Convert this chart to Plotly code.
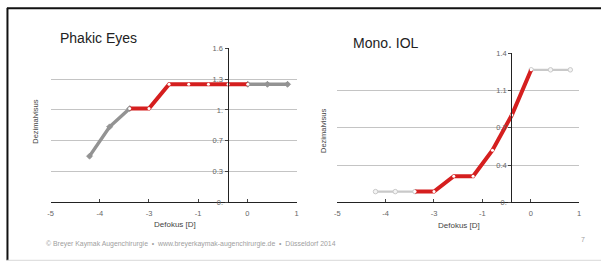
import plotly.graph_objects as go

# ---------------- data ----------------
DEFOKUS = [-4.05, -3.56, -3.07, -2.60, -2.11, -1.63, -1.15, -0.67, -0.19, 0.29, 0.78]
PHAKIC_VISUS = [0.48, 0.785, 0.975, 0.975, 1.228, 1.228, 1.228, 1.228, 1.228, 1.228, 1.228]
MONO_VISUS = [0.10, 0.10, 0.10, 0.10, 0.245, 0.245, 0.49, 0.82, 1.245, 1.245, 1.245]

X_TICK_LABELS = ["-5", "-4", "-3", "-1", "0", "1"]
PHAKIC_Y_LABELS = ["0.", "0.3", "0.7", "1.", "1.3", "1.6"]
MONO_Y_LABELS = ["0.", "0.4", "0.7", "1.1", "1.4"]

TITLES = ["Phakic Eyes", "Mono. IOL"]
Y_TITLE = "Dezimalvisus"
X_TITLE = "Defokus [D]"
FOOTER = "© Breyer Kaymak Augenchirurgie  •  www.breyerkaymak-augenchirurgie.de  •  Düsseldorf 2014"
PAGE = "7"

# axis configuration (Excel-like)
X_MIN, X_MAX, X_UNIT = -5.0, 1.0, 1.2
Y_CROSS = -0.68
PH_YMAX, PH_UNIT = 1.6, 0.32
MO_YMAX, MO_UNIT = 1.4, 0.35
RED_START, RED_END = 2, 8

W, H = 603, 274
FONT = "Liberation Sans, Arial, sans-serif"

RED = "#d51f1f"
GRAY_DARK = "#939393"
GRAY_LIGHT = "#c9c9c9"

fig = go.Figure()

def px_x(p):
    return p / W

def px_y(p):
    return (H - p) / H

panels = [
    dict(xa="x", ya="y", xdom=(48, 296), ytop=46, ymax=PH_YMAX, unit=PH_UNIT,
         labels=PHAKIC_Y_LABELS, vals=PHAKIC_VISUS, gray=GRAY_DARK, gw=3.5,
         gsym="diamond", gcol=GRAY_DARK, gline=GRAY_DARK),
    dict(xa="x2", ya="y2", xdom=(337, 581), ytop=51, ymax=MO_YMAX, unit=MO_UNIT,
         labels=MONO_Y_LABELS, vals=MONO_VISUS, gray=GRAY_LIGHT, gw=2.2,
         gsym="circle", gcol="#f4f4f4", gline=GRAY_LIGHT),
]

for i, p in enumerate(panels):
    xs = DEFOKUS
    ys = p["vals"]
    for sl in (slice(None, RED_START + 1), slice(RED_END, None)):
        fig.add_trace(go.Scatter(
            x=xs[sl], y=ys[sl], xaxis=p["xa"], yaxis=p["ya"],
            mode="lines+markers", line=dict(color=p["gray"], width=p["gw"]),
            marker=dict(symbol=p["gsym"], size=4.5, color=p["gcol"],
                        line=dict(color=p["gline"], width=1)),
            showlegend=False, hoverinfo="skip"))
    fig.add_trace(go.Scatter(
        x=xs[RED_START:RED_END + 1], y=ys[RED_START:RED_END + 1],
        xaxis=p["xa"], yaxis=p["ya"],
        mode="lines+markers", line=dict(color=RED, width=4),
        marker=dict(symbol="circle", size=3, color="white", line=dict(width=0)),
        showlegend=False, hoverinfo="skip"))

layout_axes = {}
for i, p in enumerate(panels):
    x0, x1 = p["xdom"]
    xdom = [px_x(x0), px_x(x1)]
    ydom = [px_y(205), px_y(p["ytop"])]
    cross_pos = xdom[0] + (Y_CROSS - X_MIN) / (X_MAX - X_MIN) * (xdom[1] - xdom[0])
    n_x = int(round((X_MAX - X_MIN) / X_UNIT))
    n_y = int(round(p["ymax"] / p["unit"]))
    xkey = "xaxis" if i == 0 else "xaxis2"
    ykey = "yaxis" if i == 0 else "yaxis2"
    layout_axes[xkey] = dict(
        domain=xdom, range=[X_MIN, X_MAX], anchor=p["ya"],
        tickmode="array", tickvals=[X_MIN + X_UNIT * k for k in range(n_x + 1)],
        ticktext=X_TICK_LABELS, showgrid=False, zeroline=False,
        showline=True, linecolor="#222", linewidth=1.3,
        ticks="inside", ticklen=3, tickcolor="#444", ticklabelstandoff=4,
        tickfont=dict(family=FONT, size=7.5, color="#666"),
    )
    layout_axes[ykey] = dict(
        domain=ydom, range=[0, p["ymax"]], anchor="free", position=cross_pos,
        side="left",
        tickmode="array", tickvals=[p["unit"] * k for k in range(n_y + 1)],
        ticktext=p["labels"], showgrid=True, gridcolor="#c4c4c4", gridwidth=1,
        zeroline=False, showline=True, linecolor="#222", linewidth=1.3,
        ticks="outside", ticklen=3, tickcolor="#444",
        tickfont=dict(family=FONT, size=7.5, color="#666"),
    )

fig.update_layout(**layout_axes)

annotations = [
    dict(text=TITLES[0], x=px_x(55), y=px_y(35), xanchor="left", yanchor="middle",
         font=dict(family=FONT, size=14, color="#222")),
    dict(text=TITLES[1], x=px_x(351), y=px_y(40), xanchor="left", yanchor="middle",
         font=dict(family=FONT, size=14, color="#222")),
    dict(text=Y_TITLE, x=px_x(33), y=px_y(122), textangle=-90, xanchor="center",
         yanchor="middle", font=dict(family=FONT, size=7.5, color="#444")),
    dict(text=Y_TITLE, x=px_x(323), y=px_y(131), textangle=-90, xanchor="center",
         yanchor="middle", font=dict(family=FONT, size=7.5, color="#444")),
    dict(text=X_TITLE, x=px_x(173), y=px_y(228), xanchor="center", yanchor="middle",
         font=dict(family=FONT, size=8, color="#444")),
    dict(text=X_TITLE, x=px_x(460), y=px_y(229), xanchor="center", yanchor="middle",
         font=dict(family=FONT, size=8, color="#444")),
    dict(text=FOOTER, x=px_x(41), y=px_y(248), xanchor="left", yanchor="middle",
         font=dict(family=FONT, size=6.9, color="#a0a0a0")),
    dict(text=PAGE, x=px_x(585), y=px_y(243), xanchor="center", yanchor="middle",
         font=dict(family=FONT, size=7, color="#a0a0a0")),
]
for a in annotations:
    a.update(xref="paper", yref="paper", showarrow=False)

shapes = [
    dict(type="line", xref="paper", yref="paper", x0=px_x(4), x1=1.0,
         y0=px_y(4.5), y1=px_y(4.5), line=dict(color="#111", width=2)),
    dict(type="line", xref="paper", yref="paper", x0=px_x(4.5), x1=px_x(4.5),
         y0=px_y(4), y1=px_y(265), line=dict(color="#111", width=2)),
    dict(type="line", xref="paper", yref="paper", x0=px_x(4), x1=1.0,
         y0=px_y(265), y1=px_y(265), line=dict(color="#d8d8d8", width=1)),
]

fig.update_layout(
    width=W, height=H, autosize=False, margin=dict(l=0, r=0, t=0, b=0),
    paper_bgcolor="white", plot_bgcolor="rgba(0,0,0,0)",
    annotations=annotations, shapes=shapes, showlegend=False,
    font=dict(family=FONT),
)

fig.write_html(
    "out.html",
    config={"responsive": False, "displayModeBar": False},
    post_script=("document.body.style.margin='0';"
                 "document.body.style.overflow='hidden';"
                 "document.documentElement.style.overflow='hidden';"),
)
